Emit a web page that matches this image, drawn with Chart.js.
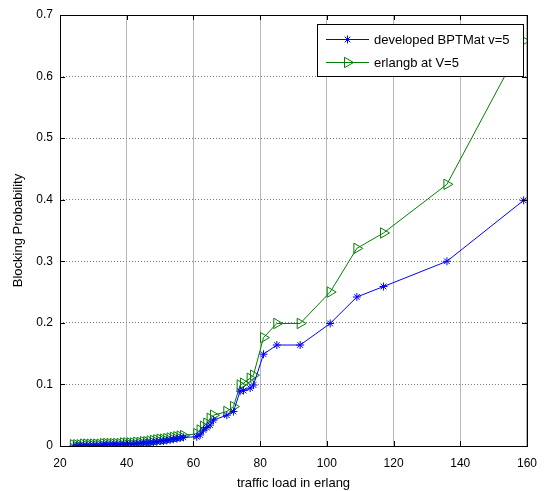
<!DOCTYPE html>
<html>
<head>
<meta charset="utf-8">
<script src="https://cdn.jsdelivr.net/npm/chart.js@4/dist/chart.umd.min.js"></script>
<style>
  html, body { margin: 0; padding: 0; background: #fff; }
  #wrap { width: 547px; height: 491px; }
</style>
</head>
<body>
<div id="wrap"><canvas id="chart" width="547" height="491"></canvas></div>
<script>
// traffic load (erlang)
const loads = [24, 25, 26, 27, 28, 29, 30, 31, 32, 33, 34, 35, 36, 37, 38, 39, 40,
    41, 42, 43, 44, 45, 46, 47, 48, 49, 50, 51, 52, 53, 54, 55, 56, 57,
    61, 62, 63, 64, 65, 66, 70, 72, 74, 75, 77, 78, 81, 85, 92, 101, 109, 117, 136, 159];

// developed BPTMat v=5
const bptm = [0.000, 0.000, 0.001, 0.001, 0.001, 0.001, 0.001, 0.001, 0.001, 0.002, 0.002, 0.002, 0.002, 0.002, 0.002, 0.003, 0.003,
    0.003, 0.003, 0.004, 0.004, 0.005, 0.005, 0.006, 0.006, 0.007, 0.008, 0.008, 0.009, 0.010, 0.011, 0.012, 0.013, 0.014,
    0.015, 0.018, 0.026, 0.030, 0.034, 0.042, 0.050, 0.056, 0.089, 0.090, 0.094, 0.099, 0.149, 0.164, 0.164, 0.199, 0.242, 0.259, 0.300, 0.399];

// erlangb at V=5
const erlangb = [0.002, 0.002, 0.002, 0.003, 0.003, 0.003, 0.003, 0.003, 0.003, 0.004, 0.004, 0.004, 0.004, 0.004, 0.004, 0.005, 0.005,
    0.005, 0.005, 0.006, 0.006, 0.007, 0.007, 0.008, 0.009, 0.010, 0.011, 0.011, 0.012, 0.013, 0.014, 0.015, 0.016, 0.017,
    0.020, 0.026, 0.032, 0.037, 0.045, 0.050, 0.056, 0.064, 0.099, 0.102, 0.110, 0.115, 0.176, 0.199, 0.199, 0.250, 0.321, 0.346, 0.425, 0.658];

const xTicks = [20, 40, 60, 80, 100, 120, 140, 160];
const yTicks = [0, 0.1, 0.2, 0.3, 0.4, 0.5, 0.6, 0.7];

const FONT = '"Liberation Sans", Arial, sans-serif';

function pairs(xs, ys) {
    return xs.map((x, i) => ({ x: x, y: ys[i] }));
}

// matlab style box + inward ticks + legend
const matlabFrame = {
    id: 'matlabFrame',
    afterDraw(chart) {
        const ctx = chart.ctx;
        const a = chart.chartArea;
        const sx = chart.scales.x, sy = chart.scales.y;
        ctx.save();
        ctx.strokeStyle = '#000';
        ctx.lineWidth = 1;
        ctx.strokeRect(Math.round(a.left) + 0.5, Math.round(a.top) + 0.5,
            Math.round(a.right - a.left), Math.round(a.bottom - a.top));
        ctx.beginPath();
        xTicks.forEach(v => {
            const px = Math.round(sx.getPixelForValue(v)) + 0.5;
            ctx.moveTo(px, a.bottom); ctx.lineTo(px, a.bottom - 5);
            ctx.moveTo(px, a.top); ctx.lineTo(px, a.top + 5);
        });
        yTicks.forEach(v => {
            const py = Math.round(sy.getPixelForValue(v)) + 0.5;
            ctx.moveTo(a.left, py); ctx.lineTo(a.left + 5, py);
            ctx.moveTo(a.right, py); ctx.lineTo(a.right - 5, py);
        });
        ctx.stroke();

        // legend
        const lx = 317, ly = 24, lw = 206, lh = 52;
        ctx.fillStyle = '#fff';
        ctx.fillRect(lx, ly, lw, lh);
        ctx.strokeRect(lx + 0.5, ly + 0.5, lw, lh);
        const rows = [
            { ds: chart.data.datasets[0], y: 39.5 },
            { ds: chart.data.datasets[1], y: 62.5 }
        ];
        ctx.font = '13px ' + FONT;
        ctx.textBaseline = 'middle';
        rows.forEach(r => {
            ctx.strokeStyle = r.ds.borderColor;
            ctx.lineWidth = 1;
            ctx.beginPath();
            ctx.moveTo(326, r.y); ctx.lineTo(369, r.y);
            ctx.stroke();
            ctx.fillStyle = 'rgba(0,0,0,0)';
            Chart.helpers.drawPoint(ctx, {
                pointStyle: r.ds.pointStyle,
                rotation: r.ds.pointRotation || 0,
                radius: r.ds.pointRadius,
                borderWidth: 1
            }, 347.5, r.y);
            ctx.fillStyle = '#000';
            ctx.fillText(r.ds.label, 374, r.y + 1);
        });
        ctx.restore();
    }
};

new Chart(document.getElementById('chart'), {
    type: 'line',
    data: {
        datasets: [{
            label: 'developed BPTMat v=5',
            data: pairs(loads, bptm),
            borderColor: '#0000ff',
            backgroundColor: '#0000ff',
            borderWidth: 1,
            pointStyle: 'star',
            pointRadius: 4,
            pointBorderWidth: 1,
            pointBorderColor: '#0000ff',
            pointBackgroundColor: 'rgba(0,0,0,0)',
            tension: 0
        }, {
            label: 'erlangb at V=5',
            data: pairs(loads, erlangb),
            borderColor: '#008000',
            backgroundColor: '#008000',
            borderWidth: 1,
            pointStyle: 'triangle',
            pointRotation: 90,
            pointRadius: 6,
            pointBorderWidth: 1,
            pointBorderColor: '#008000',
            pointBackgroundColor: 'rgba(0,0,0,0)',
            tension: 0
        }]
    },
    options: {
        responsive: false,
        animation: false,
        layout: { padding: { left: 0, top: 15, right: 19, bottom: 0 } },
        plugins: {
            legend: { display: false },
            tooltip: { enabled: false }
        },
        scales: {
            x: {
                type: 'linear',
                min: 20,
                max: 160,
                afterFit: s => { s.height = 45; },
                afterBuildTicks: s => { s.ticks = xTicks.map(v => ({ value: v })); },
                grid: { color: '#b8b8b8', drawTicks: false },
                border: { display: false },
                ticks: { color: '#000', padding: 10, font: { family: FONT, size: 12 }, maxRotation: 0 },
                title: {
                    display: true,
                    text: 'traffic load in erlang',
                    color: '#000',
                    font: { family: FONT, size: 13 },
                    padding: { top: 2, bottom: 0 }
                }
            },
            y: {
                min: 0,
                max: 0.7,
                afterFit: s => { s.width = 60; },
                afterBuildTicks: s => { s.ticks = yTicks.map(v => ({ value: v })); },
                grid: { color: '#7a7a7a', drawTicks: false },
                border: { display: false, dash: [1, 2] },
                ticks: { color: '#000', padding: 7, font: { family: FONT, size: 12 } },
                title: {
                    display: true,
                    text: 'Blocking Probability',
                    color: '#000',
                    font: { family: FONT, size: 13 },
                    padding: { top: 11, bottom: 4 }
                }
            }
        }
    },
    plugins: [matlabFrame]
});
</script>
</body>
</html>
